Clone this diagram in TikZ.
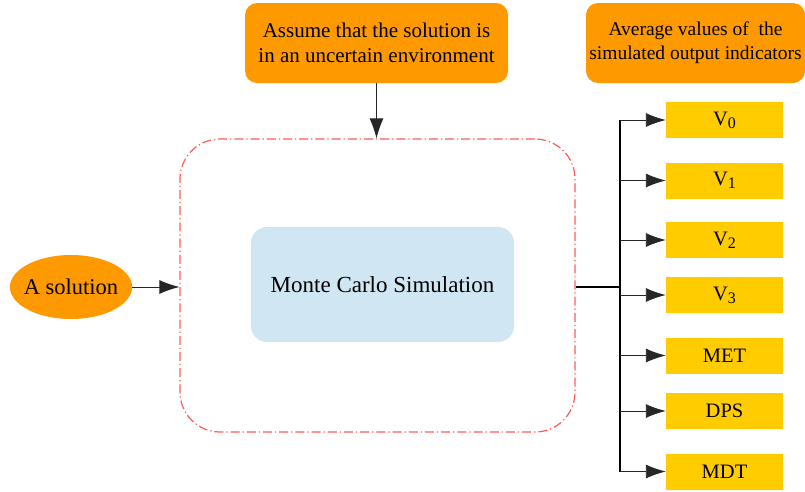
\documentclass[tikz,border=0pt]{standalone}
\usepackage{fontspec}
\setmainfont{Liberation Serif}
\usepackage{xcolor}
\usepackage{tikz}
\usetikzlibrary{arrows.meta,positioning,calc,shapes.geometric}

\definecolor{orangefill}{HTML}{FF9900}
\definecolor{yellowfill}{HTML}{FFCC00}
\definecolor{bluefill}{HTML}{D0E6F3}
\definecolor{dashred}{HTML}{FF5A5A}

\newcommand{\vsub}[1]{V\raisebox{-0.3ex}{\fontsize{16}{16}\selectfont #1}}

\begin{document}
\begin{tikzpicture}[x=1pt,y=-1pt,
	obox/.style={fill=orangefill,rounded corners=12pt,align=center,font=\fontsize{21}{25}\selectfont},
	ybox/.style={fill=yellowfill,minimum width=117pt,minimum height=36pt,font=\fontsize{20.5}{22}\selectfont},
	arr/.style={-{Latex[length=20pt,width=14pt]},line width=0.9pt,draw=black!85}]
		\useasboundingbox (0,0) rectangle (805,491);
		\node[obox,minimum width=263pt,minimum height=80pt] (assume) at (376.5,43) {Assume that the solution is\\in an uncertain environment};
		\node[obox,minimum width=219pt,minimum height=80pt,font=\fontsize{19.5}{24}\selectfont] (avg) at (695.5,43) {Average values of~ the\\simulated output indicators};
		\node[draw=dashred,line width=1.2pt,dash pattern=on 9pt off 3pt on 1.2pt off 3pt,rounded corners=40pt,minimum width=395pt,minimum height=293pt] (env) at (377.5,285.5) {};
		\node[fill=bluefill,rounded corners=16pt,minimum width=263pt,minimum height=115pt,font=\fontsize{23}{25}\selectfont] (mc) at (382.5,284.5) {Monte Carlo Simulation};
		\node[ellipse,fill=orangefill,minimum width=122pt,minimum height=64pt,inner xsep=-4pt,inner ysep=0pt,font=\fontsize{22.5}{24}\selectfont] (sol) at (71,287) {A solution};
		\draw[arr] (sol.east) -- (env.west |- sol);
		\draw[arr] (assume.south) -- (env.north -| assume);
		% indicators
		\foreach \name/\lab/\y in {v0/\vsub{0}/120,v1/\vsub{1}/180.5,v2/\vsub{2}/240,v3/\vsub{3}/295,met/MET/355.5,dps/DPS/411,mdt/MDT/471.5}
			\node[ybox] (\name) at (724.5,\y) {\lab};
		\coordinate (split) at (620,287);
		\draw[line width=1.5pt] (env.east |- split) -- (split);
		\draw[line width=1.5pt] (split |- v0) -- (split |- mdt);
		\foreach \name in {v0,v1,v2,v3,met,dps,mdt}
			\draw[arr] (split |- \name) -- (\name.west);
\end{tikzpicture}
\end{document}
